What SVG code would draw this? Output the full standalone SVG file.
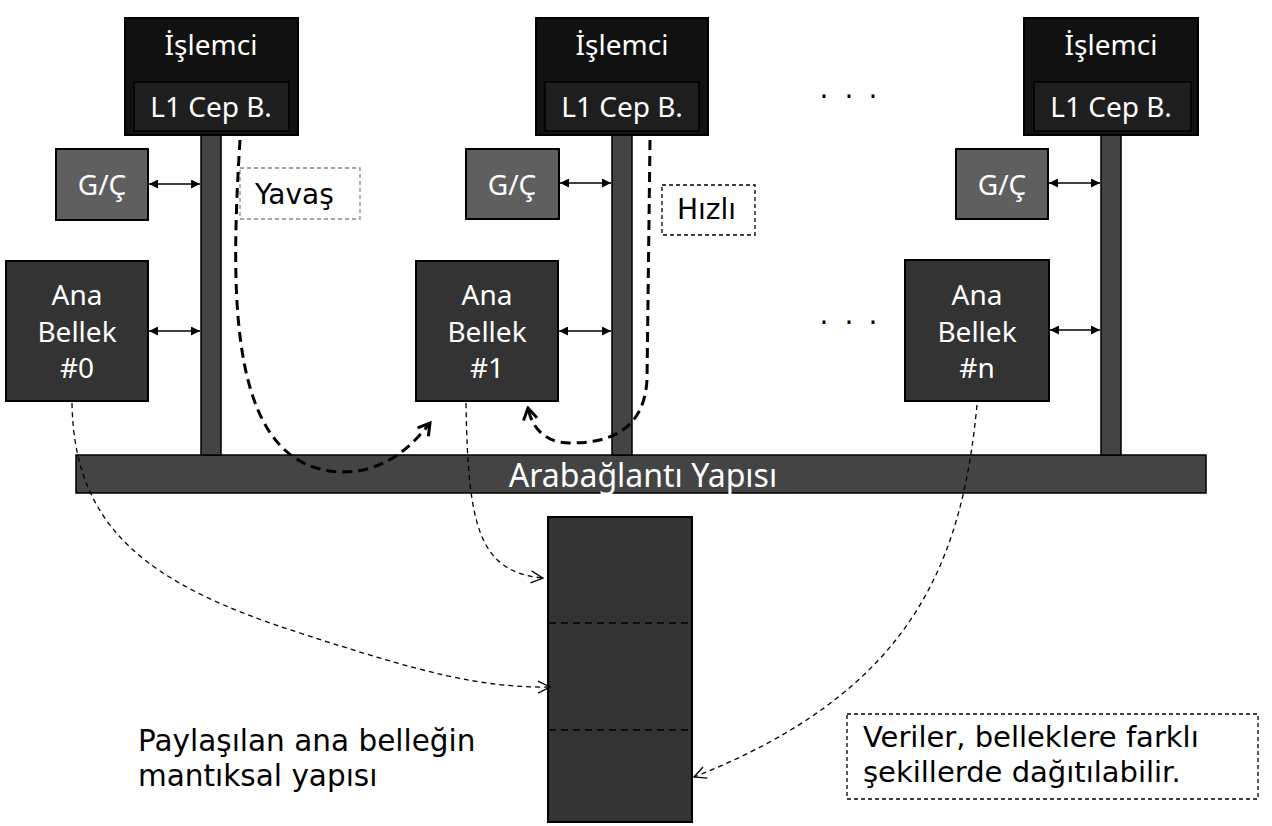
<svg xmlns="http://www.w3.org/2000/svg" width="1272" height="826" viewBox="0 0 1272 826">
<style>
.proc{fill:#111;stroke:#000;stroke-width:2}
.l1{fill:#1e1e1e;stroke:#000;stroke-width:1.5}
.io{fill:#5f5f5f;stroke:#000;stroke-width:2}
.mem{fill:#333;stroke:#000;stroke-width:2}
.bus{fill:#444;stroke:#000;stroke-width:1.5}
.wt{fill:#fff;font-family:"Noto Sans","DejaVu Sans",sans-serif;font-size:28px;text-anchor:middle}
.ct{fill:#000;font-family:"DejaVu Sans",sans-serif;font-size:28px}
.lbl{fill:#fff;stroke-width:1.3;stroke-dasharray:4 3}
.dbl{stroke:#000;stroke-width:1.5;fill:none}
.thick{stroke:#000;stroke-width:3;fill:none;stroke-dasharray:10 6}
.thin{stroke:#000;stroke-width:1.3;fill:none;stroke-dasharray:5 4}
</style>
<defs>
<marker id="tri" viewBox="0 0 10 10" refX="10" refY="5" markerWidth="10" markerHeight="9" markerUnits="userSpaceOnUse" orient="auto-start-reverse"><path d="M0,0 L10,5 L0,10 Z" fill="#000"/></marker>
<marker id="chevT" viewBox="0 0 14 14" refX="12" refY="7" markerWidth="16" markerHeight="16" markerUnits="userSpaceOnUse" orient="auto"><path d="M2,1 L12,7 L2,13" fill="none" stroke="#000" stroke-width="2.6"/></marker>
<marker id="chev" viewBox="0 0 14 14" refX="13" refY="7" markerWidth="14" markerHeight="14" markerUnits="userSpaceOnUse" orient="auto"><path d="M1,1 L13,7 L1,13" fill="none" stroke="#000" stroke-width="1.3"/></marker>
</defs>

<rect id="interconnect-bar" class="bus" x="76" y="455" width="1130" height="38"/>

<g id="proc0">
<rect class="bus" x="201" y="134" width="20" height="321"/>
<rect class="proc" x="125" y="18" width="173" height="117"/>
<rect class="l1" x="134" y="82" width="155" height="49"/>
<text class="wt" x="211" y="55">İşlemci</text>
<text class="wt" x="211" y="117">L1 Cep B.</text>
</g>
<g id="io0"><rect class="io" x="56" y="149" width="92" height="71"/><text class="wt" x="102" y="195">G/Ç</text></g>
<g id="mem0"><rect class="mem" x="6" y="261" width="142" height="140"/>
<text class="wt" x="77" y="305">Ana</text><text class="wt" x="77" y="342">Bellek</text><text class="wt" x="77" y="378">#0</text></g>

<g id="proc1">
<rect class="bus" x="612" y="134" width="20" height="321"/>
<rect class="proc" x="536" y="18" width="172" height="117"/>
<rect class="l1" x="545" y="82" width="154" height="49"/>
<text class="wt" x="622" y="55">İşlemci</text>
<text class="wt" x="622" y="117">L1 Cep B.</text>
</g>
<g id="io1"><rect class="io" x="466" y="149" width="93" height="70"/><text class="wt" x="512" y="195">G/Ç</text></g>
<g id="mem1"><rect class="mem" x="416" y="261" width="142" height="140"/>
<text class="wt" x="487" y="305">Ana</text><text class="wt" x="487" y="342">Bellek</text><text class="wt" x="487" y="378">#1</text></g>

<g id="procn">
<rect class="bus" x="1101" y="134" width="20" height="321"/>
<rect class="proc" x="1024" y="18" width="174" height="117"/>
<rect class="l1" x="1034" y="82" width="157" height="49"/>
<text class="wt" x="1111" y="55">İşlemci</text>
<text class="wt" x="1111" y="117">L1 Cep B.</text>
</g>
<g id="ion"><rect class="io" x="956" y="149" width="92" height="70"/><text class="wt" x="1002" y="195">G/Ç</text></g>
<g id="memn"><rect class="mem" x="905" y="260" width="144" height="141"/>
<text class="wt" x="977" y="305">Ana</text><text class="wt" x="977" y="342">Bellek</text><text class="wt" x="977" y="378">#n</text></g>

<text id="interconnect-label" class="wt" x="643" y="487" style="font-size:32px">Arabağlantı Yapısı</text>

<g id="dots">
<text class="ct" x="824 849 873" y="98" text-anchor="middle">...</text>
<text class="ct" x="824 849 873" y="324" text-anchor="middle">...</text>
</g>

<g id="shared-memory">
<rect class="mem" x="548" y="517" width="144" height="305"/>
<line x1="549" y1="623" x2="688" y2="623" stroke="#000" stroke-width="1.5" stroke-dasharray="7 5"/>
<line x1="549" y1="730" x2="688" y2="730" stroke="#000" stroke-width="1.3" stroke-dasharray="7 5"/>
</g>

<g id="label-yavas"><rect class="lbl" x="240" y="168" width="120" height="51" stroke="#888"/><text class="ct" x="255" y="204">Yavaş</text></g>
<g id="label-hizli"><rect class="lbl" x="662" y="185" width="93" height="50" stroke="#000"/><text class="ct" x="677" y="219">Hızlı</text></g>
<g id="note-left"><text class="ct" x="138" y="751" style="font-size:29.5px">Paylaşılan ana belleğin</text><text class="ct" x="138" y="786" style="font-size:29.5px">mantıksal yapısı</text></g>
<g id="note-right"><rect class="lbl" x="847" y="714" width="411" height="85" stroke="#000"/>
<text class="ct" x="863" y="747" style="font-size:29px">Veriler, belleklere farklı</text>
<text class="ct" x="863" y="782" style="font-size:29px">şekillerde dağıtılabilir.</text></g>

<g id="connectors">
<line class="dbl" x1="149" y1="184" x2="200" y2="184" marker-start="url(#tri)" marker-end="url(#tri)"/>
<line class="dbl" x1="149" y1="331" x2="200" y2="331" marker-start="url(#tri)" marker-end="url(#tri)"/>
<line class="dbl" x1="560" y1="183" x2="611" y2="183" marker-start="url(#tri)" marker-end="url(#tri)"/>
<line class="dbl" x1="559" y1="331" x2="611" y2="331" marker-start="url(#tri)" marker-end="url(#tri)"/>
<line class="dbl" x1="1049" y1="183" x2="1100" y2="183" marker-start="url(#tri)" marker-end="url(#tri)"/>
<line class="dbl" x1="1050" y1="330" x2="1100" y2="330" marker-start="url(#tri)" marker-end="url(#tri)"/>
<path class="thick" d="M240,140 C230,300 228,470 343,472 C385,472 412,446 430,423" marker-end="url(#chevT)"/>
<path class="thick" d="M650,140 L647,380 C644,430 610,443 570,443 C545,443 532,428 528,408" marker-end="url(#chevT)"/>
<path class="thin" d="M72,403 C74,530 150,585 300,633 C420,672 480,688 550,687" marker-end="url(#chev)"/>
<path class="thin" d="M466,403 C468,525 478,572 543,578" marker-end="url(#chev)"/>
<path class="thin" d="M977,405 C962,560 915,690 694,777" marker-end="url(#chev)"/>
</g>
</svg>
